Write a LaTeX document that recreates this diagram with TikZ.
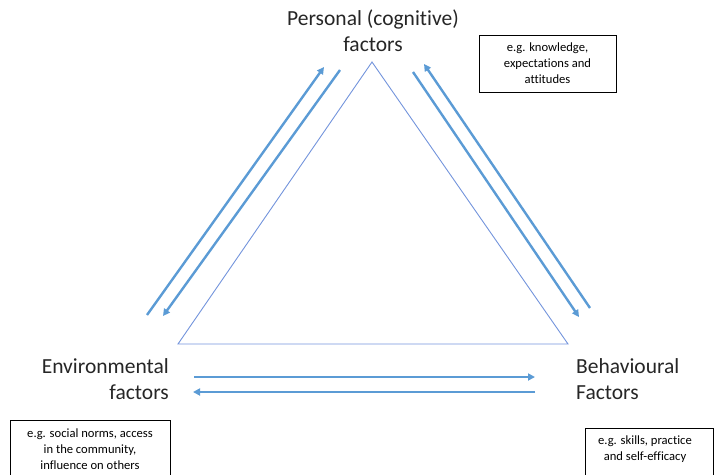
\documentclass[tikz,border=0pt]{standalone}
\usepackage{fontspec}
\setmainfont{Carlito}[Ligatures=NoCommon]
\usetikzlibrary{arrows.meta}
\definecolor{flow}{HTML}{5B9BD5}
\definecolor{edge}{HTML}{7394DC}
\definecolor{ink}{HTML}{262626}
\begin{document}
\begin{tikzpicture}[x=1pt,y=-1pt,
  flowline/.style={draw=flow,line width=2.4pt,-{Triangle[length=7pt,width=7pt]}},
  corner/.style={font=\fontsize{21.5}{26}\selectfont,text=ink,inner sep=0pt},
  boxframe/.style={draw=black,line width=0.8pt,inner sep=0pt,anchor=north west},
  notetext/.style={font=\fontsize{12.6}{16}\selectfont,align=center,inner sep=0pt,
    text=black,anchor=north}]
\useasboundingbox (0,0) rectangle (715,474);

% labels at the corners
\node[corner,align=center,anchor=north] (pers) at (373,9.5) {Personal (cognitive)\\factors};
\node[corner,align=right,anchor=north east] (env) at (169,358) {Environmental\\factors};
\node[corner,align=left,anchor=north west] (beh) at (576,358) {Behavioural\\Factors};

% example boxes
\node[boxframe,minimum width=137pt,minimum height=57pt] (pbox) at (479,35) {};
\node[notetext] (ptext) at (547.5,43) {e.g. knowledge,\\expectations and\\attitudes};
\node[boxframe,minimum width=160pt,minimum height=60pt] (ebox) at (10,420) {};
\node[notetext] (etext) at (90,429) {e.g. social norms, access\\in the community,\\influence on others};
\node[boxframe,minimum width=128pt,minimum height=52pt] (bbox) at (585,428) {};
\node[notetext] (btext) at (645,436) {e.g. skills, practice\\and self-efficacy};

% central triangle
\coordinate (top) at (372,62);
\coordinate (bl) at (178,344);
\coordinate (br) at (568,344);
\draw[edge,line width=0.9pt,line join=miter] (top) -- (bl) -- (br) -- cycle;

% left side pair
\coordinate (l1s) at (147,315);
\coordinate (l1e) at (324,67);
\coordinate (l2s) at (340,70);
\coordinate (l2e) at (163,316);
\draw[flowline] (l1s) -- (l1e);
\draw[flowline] (l2s) -- (l2e);

% right side pair
\coordinate (r1s) at (413,72);
\coordinate (r1e) at (579,317);
\coordinate (r2s) at (590,308);
\coordinate (r2e) at (424,64);
\draw[flowline] (r1s) -- (r1e);
\draw[flowline] (r2s) -- (r2e);

% bottom pair
\coordinate (b1s) at (194,377);
\coordinate (b1e) at (535,377);
\coordinate (b2s) at (535,392);
\coordinate (b2e) at (193,392);
\draw[flowline] (b1s) -- (b1e);
\draw[flowline] (b2s) -- (b2e);
\end{tikzpicture}
\end{document}
